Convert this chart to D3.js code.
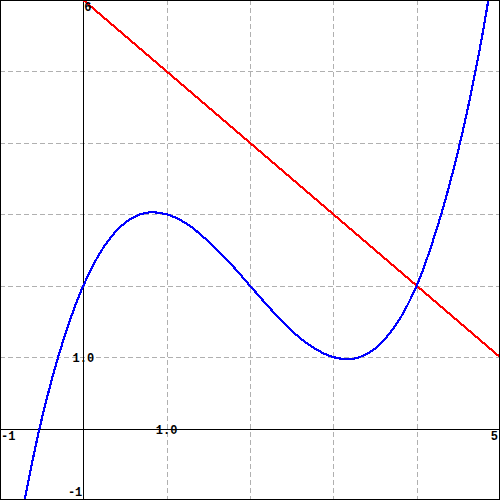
<!DOCTYPE html>
<html>
<head>
<meta charset="utf-8">
<script src="https://cdn.jsdelivr.net/npm/d3@7"></script>
<style>
html,body{margin:0;padding:0;background:#fff;}
svg{display:block;}
text{font-family:"Liberation Mono","DejaVu Sans Mono",monospace;font-weight:bold;font-size:12px;fill:#000;}
</style>
</head>
<body>
<script>
// Domain
const xDomain = [-1, 5];
const yDomain = [-1, 6];
const xGridTicks = [1, 2, 3, 4];
const yGridTicks = [1, 2, 3, 4, 5];

// Blue curve samples
const blueX = [-0.75, -0.5, -0.25, 0, 0.25, 0.5, 0.75, 1, 1.25, 1.5, 1.75, 2, 2.25, 2.5, 2.75, 3, 3.25, 3.5, 3.75, 4, 4.25, 4.5, 4.75, 5];
const blueY = [-1.27, 0.13, 1.2, 2, 2.55, 2.88, 3.02, 3.0, 2.86, 2.62, 2.33, 2.0, 1.67, 1.37, 1.14, 1.0, 0.98, 1.12, 1.45, 2.0, 2.83, 3.9, 5.27, 7.0];

// Red line
const redX = [0, 5];
const redY = [6, 1];

// Tick labels
const xLabels = [{v: -1, t: "-1"}, {v: 1, t: "1.0"}, {v: 5, t: "5"}];
const yLabels = [{v: 6, t: "6"}, {v: 1, t: "1.0"}, {v: -1, t: "-1"}];

const W = 500, H = 500;
const x = d3.scaleLinear().domain(xDomain).range([0, W]);
const y = d3.scaleLinear().domain(yDomain).range([H, 0]);

const svg = d3.select("body").append("svg").attr("width", W).attr("height", H);

svg.append("defs").append("clipPath").attr("id", "clip")
  .append("rect").attr("x", 0).attr("y", 0).attr("width", W).attr("height", H);

// Grid
const grid = svg.append("g").attr("stroke", "#b0b0b0").attr("stroke-width", 1)
  .attr("stroke-dasharray", "5,3").attr("shape-rendering", "crispEdges");
grid.selectAll("line.vx").data(xGridTicks).enter().append("line")
  .attr("x1", d => Math.round(x(d)) + 0.5).attr("x2", d => Math.round(x(d)) + 0.5)
  .attr("y1", 0).attr("y2", H);
grid.selectAll("line.hy").data(yGridTicks).enter().append("line")
  .attr("y1", d => Math.round(y(d)) + 0.5).attr("y2", d => Math.round(y(d)) + 0.5)
  .attr("x1", 0).attr("x2", W);

// Axes
const ax = svg.append("g").attr("stroke", "#000").attr("stroke-width", 1).attr("shape-rendering", "crispEdges");
ax.append("line").attr("x1", 0).attr("x2", W).attr("y1", Math.round(y(0)) + 0.5).attr("y2", Math.round(y(0)) + 0.5);
ax.append("line").attr("y1", 0).attr("y2", H).attr("x1", Math.round(x(0)) + 0.5).attr("x2", Math.round(x(0)) + 0.5);

// Curves
const plot = svg.append("g").attr("clip-path", "url(#clip)");
const line = d3.line().x(d => x(d[0])).y(d => y(d[1])).curve(d3.curveCatmullRom);
plot.append("path").datum(redX.map((v, i) => [v, redY[i]]))
  .attr("d", d3.line().x(d => x(d[0])).y(d => y(d[1])))
  .attr("fill", "none").attr("stroke", "#ff0000").attr("stroke-width", 2.2)
  .attr("shape-rendering", "crispEdges");
plot.append("path").datum(blueX.map((v, i) => [v, blueY[i]]))
  .attr("d", line)
  .attr("fill", "none").attr("stroke", "#0000ff").attr("stroke-width", 2.2)
  .attr("shape-rendering", "crispEdges");

// Labels
const x0 = x(0), y0 = y(0);
svg.append("text").attr("x", 1).attr("y", y0 + 11).text(xLabels[0].t);
svg.append("text").attr("x", x(xLabels[1].v)).attr("y", y0 + 5).attr("text-anchor", "middle").text(xLabels[1].t);
svg.append("text").attr("x", 498).attr("y", y0 + 11).attr("text-anchor", "end").text(xLabels[2].t);
svg.append("text").attr("x", x0 + 1).attr("y", y(yLabels[0].v) + 11).text(yLabels[0].t);
svg.append("text").attr("x", x0).attr("y", y(yLabels[1].v) + 5).attr("text-anchor", "middle").text(yLabels[1].t);
svg.append("text").attr("x", x0 - 1).attr("y", y(yLabels[2].v) - 4).attr("text-anchor", "end").text(yLabels[2].t);

// Frame
svg.append("rect").attr("x", 0.5).attr("y", 0.5).attr("width", W - 1.5).attr("height", H - 1.5)
  .attr("fill", "none").attr("stroke", "#000").attr("stroke-width", 1).attr("shape-rendering", "crispEdges");
</script>
</body>
</html>
